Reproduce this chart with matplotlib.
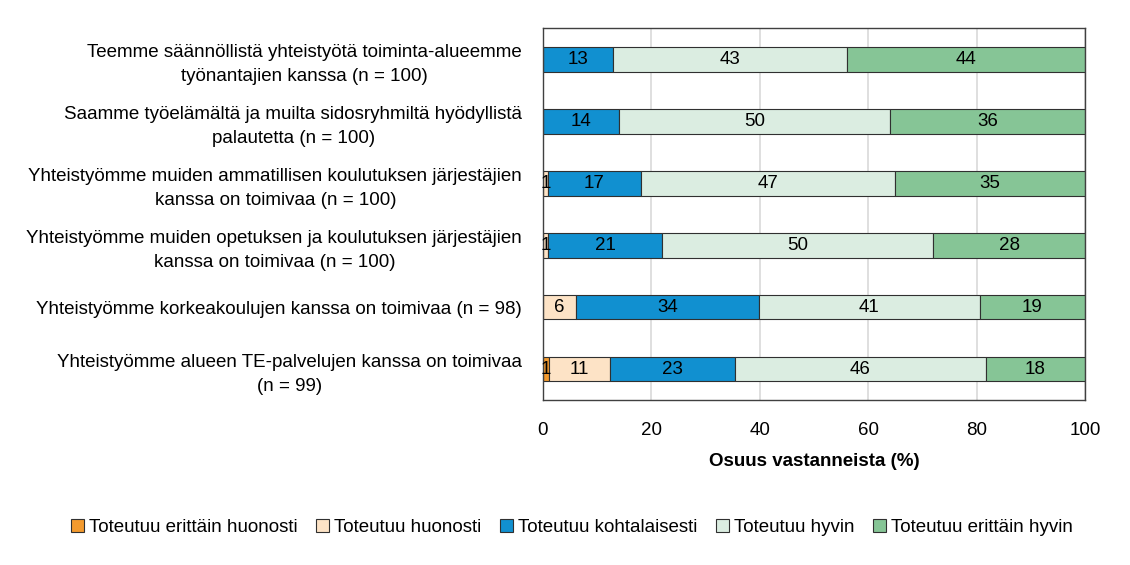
import numpy as np
import matplotlib.pyplot as plt

plt.rcParams["font.family"] = ["Liberation Sans", "DejaVu Sans"]

questions = [
    "Teemme säännöllistä yhteistyötä toiminta-alueemme\ntyönantajien kanssa (n = 100)",
    "Saamme työelämältä ja muilta sidosryhmiltä hyödyllistä\npalautetta (n = 100)",
    "Yhteistyömme muiden ammatillisen koulutuksen järjestäjien\nkanssa on toimivaa (n = 100)",
    "Yhteistyömme muiden opetuksen ja koulutuksen järjestäjien\nkanssa on toimivaa (n = 100)",
    "Yhteistyömme korkeakoulujen kanssa on toimivaa (n = 98)",
    "Yhteistyömme alueen TE-palvelujen kanssa on toimivaa\n(n = 99)",
]
categories = [
    "Toteutuu erittäin huonosti",
    "Toteutuu huonosti",
    "Toteutuu kohtalaisesti",
    "Toteutuu hyvin",
    "Toteutuu erittäin hyvin",
]
# shares in % (labels show rounded values)
erittain_huonosti = [0, 0, 0, 0, 0, 1.1]
huonosti = [0, 0, 1, 1, 6.1, 11.2]
kohtalaisesti = [13, 14, 17, 21, 33.7, 23.1]
hyvin = [43, 50, 47, 50, 40.8, 46.3]
erittain_hyvin = [44, 36, 35, 28, 19.4, 18.3]

series = [erittain_huonosti, huonosti, kohtalaisesti, hyvin, erittain_hyvin]
colors = ["#f39a2e", "#fde3c6", "#1190d0", "#dbede1", "#86c596"]
edge = "#303030"
fs = 13.5

fig = plt.figure(figsize=(11.3, 5.65), dpi=100)
ax = fig.add_axes([0.4805, 0.292, 0.4797, 0.658])

y = np.arange(len(questions))
left = np.zeros(len(questions))
for vals, color, name in zip(series, colors, categories):
    vals = np.array(vals, dtype=float)
    bars = ax.barh(y, vals, left=left, height=0.4, color=color,
                   edgecolor=edge, linewidth=0.8, label=name)
    for b, v in zip(bars, vals):
        if v > 0:
            ax.text(b.get_x() + b.get_width() / 2, b.get_y() + b.get_height() / 2,
                    f"{round(v)}", ha="center", va="center", fontsize=fs, color="black")
    left += vals

ax.set_xlim(0, 100)
ax.set_ylim(len(questions) - 0.5, -0.5)
ax.set_xticks([0, 20, 40, 60, 80, 100])
ax.set_yticks(y)
ax.set_yticklabels(questions, fontsize=fs, ha="right", multialignment="center",
                   linespacing=1.5)
ax.tick_params(axis="y", length=0, pad=15)
ax.tick_params(axis="x", length=0, labelsize=fs, pad=16)
ax.grid(axis="x", color="#d9d9d9", linewidth=1.2)
ax.set_axisbelow(True)
for s in ax.spines.values():
    s.set_color("#404040")
    s.set_linewidth(1)
ax.set_xlabel("Osuus vastanneista (%)", fontsize=fs, fontweight="bold", labelpad=10)

fig.legend(loc="center", bbox_to_anchor=(0.506, 0.066), ncol=5, fontsize=fs,
           frameon=False, handlelength=0.7, handleheight=0.7, handletextpad=0.25,
           columnspacing=1.0, borderaxespad=0)

fig.savefig("out.png", dpi=100)
